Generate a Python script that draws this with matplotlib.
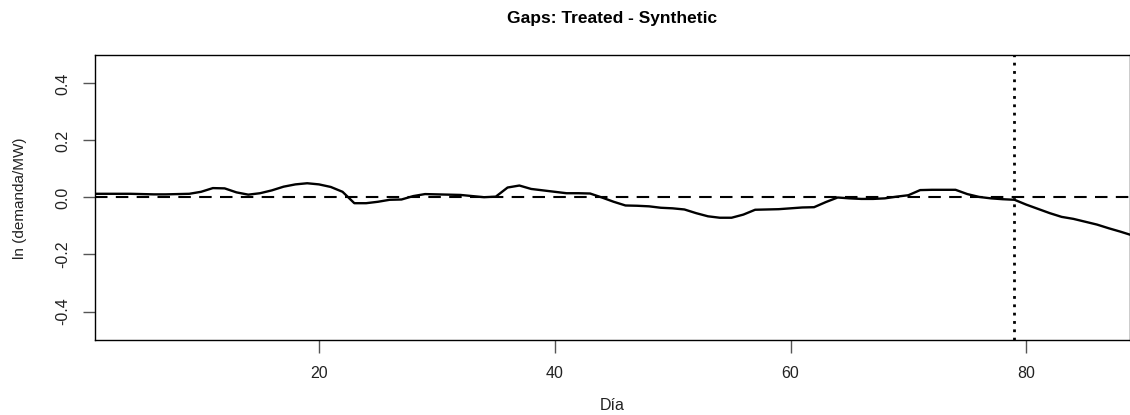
import matplotlib
matplotlib.use("Agg")
import matplotlib.pyplot as plt

days = list(range(1, 90))
gap = [0.013, 0.013, 0.013, 0.013, 0.012, 0.011, 0.011, 0.012, 0.013, 0.020,
       0.033, 0.032, 0.018, 0.010, 0.015, 0.025, 0.038, 0.046, 0.050, 0.046,
       0.037, 0.020, -0.020, -0.020, -0.015, -0.008, -0.007, 0.005, 0.012, 0.011,
       0.010, 0.009, 0.005, 0.001, 0.003, 0.035, 0.042, 0.030, 0.025, 0.020,
       0.015, 0.015, 0.014, 0.000, -0.015, -0.028, -0.029, -0.031, -0.036, -0.038,
       -0.042, -0.055, -0.066, -0.071, -0.071, -0.060, -0.043, -0.042, -0.041, -0.038,
       -0.035, -0.034, -0.016, 0.000, -0.003, -0.005, -0.005, -0.003, 0.003, 0.008,
       0.026, 0.027, 0.027, 0.027, 0.012, 0.002, -0.003, -0.006, -0.008, -0.025,
       -0.040, -0.055, -0.068, -0.075, -0.085, -0.095, -0.108, -0.120, -0.133]
treat_day = 79
x_ticks = [20, 40, 60, 80]
y_ticks = [-0.4, -0.2, 0.0, 0.2, 0.4]
y_ticklabels = ["-0.4", "-0.2", "0.0", "0.2", "0.4"]

plt.rcParams['font.family'] = ['Liberation Sans', 'DejaVu Sans']

fig = plt.figure(figsize=(11.3, 4.15), dpi=100)
ax = fig.add_axes([95/1130, 1-340/415, 1-95/1130, (340-55)/415])

ax.plot(days, gap, color='black', lw=1.7, solid_joinstyle='round')
ax.axhline(0, color='black', lw=1.5, linestyle=(0, (6, 4)))
ax.axvline(treat_day, color='black', lw=2, linestyle=(0, (1, 2)))

ax.set_xlim(1, 88.8)
ax.set_ylim(-0.5, 0.5)
ax.set_xticks(x_ticks)
ax.set_yticks(y_ticks)
ax.set_yticklabels(y_ticklabels, rotation=90, va='center')
ax.tick_params(axis='both', length=9, width=1, color='#555555', labelsize=11.5, labelcolor='#222222')
ax.tick_params(axis='x', pad=10)
ax.tick_params(axis='y', pad=9)
for s in ax.spines.values():
    s.set_linewidth(1.0)
    s.set_color('black')

fig.text((95+1130)/2/1130, 1-405/415, 'Día', ha='center', va='center',
         fontsize=11.5, color='#222222')
fig.text(20/1130, 1-198/415, 'ln (demanda/MW)', ha='center', va='center',
         rotation=90, fontsize=11, color='#222222')
fig.text((95+1130)/2/1130, 1-18/415, 'Gaps: Treated - Synthetic', ha='center', va='center',
         fontsize=12.5, fontweight='bold')

fig.savefig('out.png', dpi=100)
